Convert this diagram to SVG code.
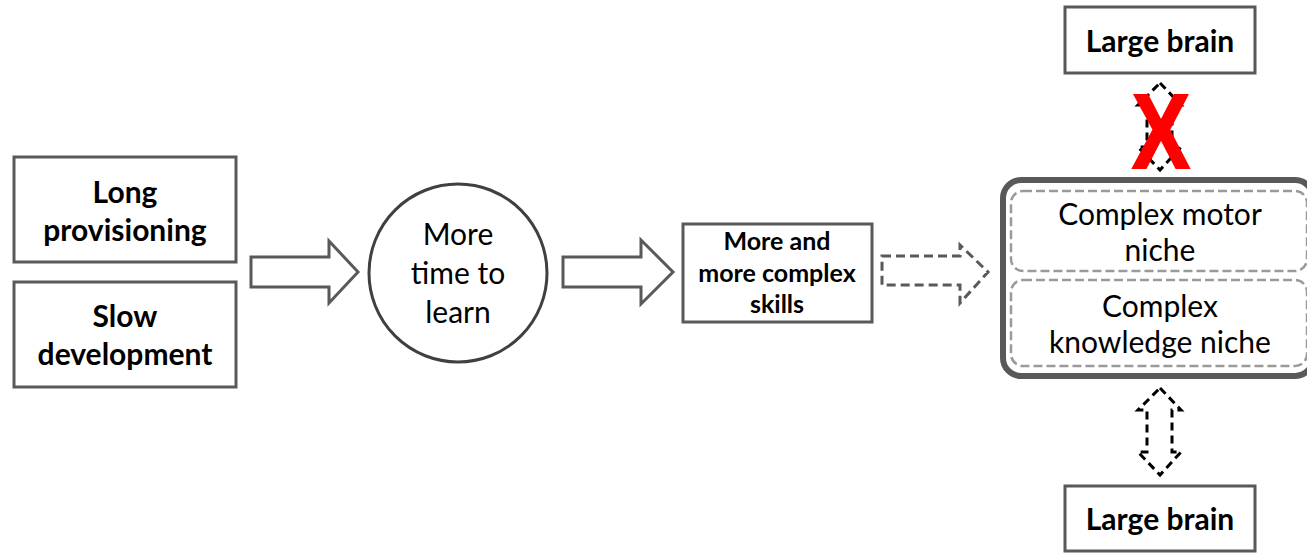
<svg xmlns="http://www.w3.org/2000/svg" width="1307" height="554" viewBox="0 0 1307 554">
<style>
.box{fill:#fff;stroke:#595959;stroke-width:3}
.b{font-family:Lato,"Open Sans",sans-serif;font-weight:bold;fill:#000;text-anchor:middle}
.r{font-family:Lato,"Open Sans",sans-serif;fill:#000;text-anchor:middle}
.blk{fill:#fff;stroke:#595959;stroke-width:3;stroke-linejoin:miter}
.dsh{fill:#fff;stroke:#595959;stroke-width:3;stroke-dasharray:9 5}
.dbl{fill:#fff;stroke:#000;stroke-width:3;stroke-dasharray:8 5}
.inner{fill:#fff;stroke:#9a9a9a;stroke-width:2.5;stroke-dasharray:9 4}
</style>
<rect width="1307" height="554" fill="#fff"/>
<g id="long-provisioning">
<rect class="box" x="14" y="157" width="222" height="105"/>
<text class="b" x="125" y="203" font-size="30">Long</text>
<text class="b" x="125" y="241" font-size="30">provisioning</text>
</g>
<g id="slow-development">
<rect class="box" x="14" y="282" width="222" height="105"/>
<text class="b" x="125" y="327" font-size="30">Slow</text>
<text class="b" x="125" y="365" font-size="30">development</text>
</g>
<g id="more-time">
<circle cx="458" cy="273" r="89" fill="#fff" stroke="#404040" stroke-width="3"/>
<text class="r" x="458" y="245" font-size="30">More</text>
<text class="r" x="458" y="284" font-size="30">time to</text>
<text class="r" x="458" y="323" font-size="30">learn</text>
</g>
<g id="skills">
<rect class="box" x="683" y="224" width="189" height="98"/>
<text class="b" x="777" y="250" font-size="25">More and</text>
<text class="b" x="777" y="282" font-size="25">more complex</text>
<text class="b" x="777" y="313" font-size="25">skills</text>
</g>
<g id="niche">
<rect x="1003" y="180" width="310" height="196" rx="18" fill="#fff" stroke="#595959" stroke-width="6"/>
<rect class="inner" x="1011" y="191" width="296" height="80" rx="12"/>
<rect class="inner" x="1011" y="280" width="296" height="86" rx="12"/>
<text class="r" x="1160" y="225" font-size="30">Complex motor</text>
<text class="r" x="1160" y="261" font-size="30">niche</text>
<text class="r" x="1160" y="317" font-size="30">Complex</text>
<text class="r" x="1160" y="353" font-size="30">knowledge niche</text>
</g>
<g id="large-brain-top">
<rect class="box" x="1065" y="7" width="190" height="66"/>
<text class="b" x="1160" y="52" font-size="30">Large brain</text>
</g>
<g id="large-brain-bottom">
<rect class="box" x="1065" y="486" width="190" height="65"/>
<text class="b" x="1160" y="530" font-size="30">Large brain</text>
</g>
<g id="connectors">
<path class="blk" d="M251,257 H329 V241 L358,272 L329,303 V287 H251 Z"/>
<path class="blk" d="M563,257 H641 V240 L673,272 L641,304 V287 H563 Z"/>
<path class="dsh" d="M882,256 H960 V245 L988,272 L960,303 V285 H882 Z"/>
<path class="dbl" d="M1160,388 L1181,410 H1172 V452 H1181 L1160,475 L1138,452 H1147 V410 H1138 Z"/>
<path class="dbl" d="M1160,83 L1181,105 H1172 V147 H1181 L1160,170 L1138,147 H1147 V105 H1138 Z"/>
<text x="1161" y="168" font-family="Liberation Sans,Arial,sans-serif" font-weight="bold" font-size="106" fill="#f00" stroke="#f00" stroke-width="2" text-anchor="middle" transform="translate(1161 0) scale(0.82 1) translate(-1161 0)">X</text>
</g>
</svg>
